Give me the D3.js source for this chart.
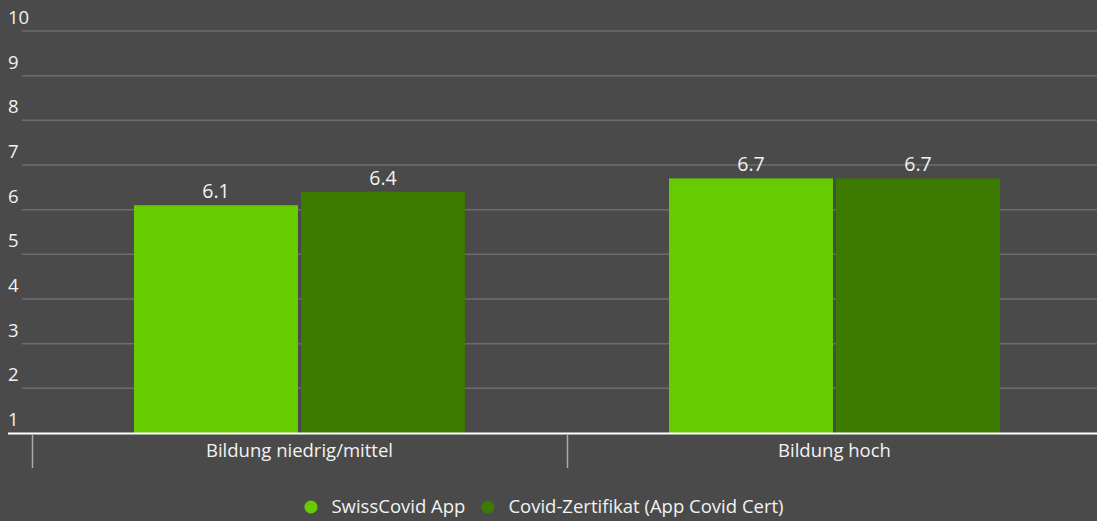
<!DOCTYPE html>
<html>
<head>
<meta charset="utf-8">
<script src="https://cdn.jsdelivr.net/npm/d3@7"></script>
<style>
  html, body { margin: 0; padding: 0; background: #4a4a4a; }
  svg { display: block; font-family: "Open Sans", "Noto Sans", sans-serif; }
</style>
</head>
<body>
<svg id="chart" width="1097" height="521"></svg>
<script>
const categories = ['Bildung niedrig/mittel', 'Bildung hoch'];
const seriesNames = ['SwissCovid App', 'Covid-Zertifikat (App Covid Cert)'];
const swissCovid = [6.1, 6.7];
const covidCert = [6.4, 6.7];
const yTicks = [1, 2, 3, 4, 5, 6, 7, 8, 9, 10];

const colors = ['#66cc00', '#3d7a00'];
const W = 1097, H = 521;
const textColor = '#f2f2f2';
const svg = d3.select('#chart');

const x0 = d3.scaleBand().domain(categories).range([32, 1102]);
const x1 = d3.scaleBand().domain(seriesNames).range([0, 331]).paddingInner(0.018);
const y = d3.scaleLinear().domain([1, 10]).range([433, 31]);

// grid
svg.append('g').selectAll('line').data(yTicks.slice(1)).join('line')
  .attr('x1', 22).attr('x2', W)
  .attr('y1', d => y(d)).attr('y2', d => y(d))
  .attr('stroke', '#6c6c6c').attr('stroke-width', 1.5);

svg.append('g').selectAll('text').data(yTicks).join('text')
  .attr('x', 8).attr('y', d => y(d) - 7)
  .attr('fill', textColor).attr('font-size', 18.5)
  .text(d => d);

// bars
const rows = categories.map((c, i) => ({ c, vals: [swissCovid[i], covidCert[i]] }));
const groups = svg.append('g').selectAll('g').data(rows).join('g')
  .attr('transform', d => `translate(${x0(d.c) + x0.bandwidth() / 2 - 331 / 2},0)`);

groups.selectAll('rect').data(d => d.vals.map((v, j) => ({ v, s: seriesNames[j], j }))).join('rect')
  .attr('x', d => x1(d.s)).attr('width', x1.bandwidth())
  .attr('y', d => y(d.v)).attr('height', d => y(1) - y(d.v))
  .attr('fill', d => colors[d.j]);

groups.selectAll('text').data(d => d.vals.map((v, j) => ({ v, s: seriesNames[j] }))).join('text')
  .attr('x', d => x1(d.s) + x1.bandwidth() / 2).attr('y', d => y(d.v) - 7)
  .attr('text-anchor', 'middle').attr('fill', textColor).attr('font-size', 19.5)
  .text(d => d3.format('.1f')(d.v));

// x axis
svg.append('line').attr('x1', 8).attr('x2', W).attr('y1', 433.5).attr('y2', 433.5)
  .attr('stroke', '#ffffff').attr('stroke-width', 2);

const boundaries = categories.map(c => x0(c)).concat([x0.range()[1]]);
svg.append('g').selectAll('line').data(boundaries).join('line')
  .attr('x1', d => d + 0.5).attr('x2', d => d + 0.5).attr('y1', 434).attr('y2', 468)
  .attr('stroke', '#aaaaaa').attr('stroke-width', 1.5);

svg.append('g').selectAll('text').data(categories).join('text')
  .attr('x', d => x0(d) + x0.bandwidth() / 2).attr('y', 457)
  .attr('text-anchor', 'middle').attr('fill', textColor).attr('font-size', 18.5)
  .text(d => d);

// legend, laid out left to right then centred
const legend = svg.append('g');
let cursor = 0;
seriesNames.forEach((name, j) => {
  const item = legend.append('g').attr('transform', `translate(${cursor},0)`);
  item.append('circle').attr('cx', 6.5).attr('cy', 507).attr('r', 6.5).attr('fill', colors[j]);
  const t = item.append('text').attr('x', 27).attr('y', 513)
    .attr('fill', textColor).attr('font-size', 18.5).text(name);
  cursor += 27 + t.node().getComputedTextLength() + 16;
});
const legendWidth = cursor - 16;
legend.attr('transform', `translate(${544 - legendWidth / 2},0)`);
</script>
</body>
</html>
